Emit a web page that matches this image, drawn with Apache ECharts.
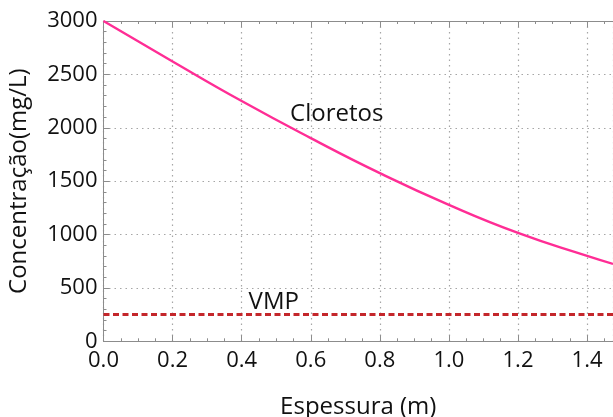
<!DOCTYPE html>
<html>
<head>
<meta charset="utf-8">
<script src="https://cdn.jsdelivr.net/npm/echarts@6/dist/echarts.min.js"></script>
<style>
  html, body { margin: 0; padding: 0; background: #fff; }
  #chart { width: 613px; height: 417px; }
</style>
</head>
<body>
<div id="chart"></div>
<script>
// Chloride concentration versus layer thickness
const thickness = [0, 0.2, 0.4, 0.6, 0.8, 1.0, 1.2, 1.4, 1.475];
const chloride = [3000, 2621, 2250, 1903, 1575, 1278, 1015, 800, 725];
// Maximum permitted value (VMP)
const vmpRange = [0, 1.475];
const vmpValue = 250;
const xMax = 1.475;

const FONT = '"Open Sans", "Noto Sans", sans-serif';
const AXIS_GREY = '#8c8c8c';
const TEXT = '#111111';

const chart = echarts.init(document.getElementById('chart'), null, { renderer: 'canvas' });

const baseX = {
  type: 'value', min: 0, max: xMax, interval: 0.2,
  axisLine: { show: true, lineStyle: { color: AXIS_GREY, width: 1 } },
  axisTick: { show: true, inside: true, length: 6, lineStyle: { color: AXIS_GREY } },
  minorTick: { show: true, splitNumber: 4, length: 3, lineStyle: { color: AXIS_GREY } }
};

chart.setOption({
  animation: false,
  backgroundColor: '#fff',
  grid: {
    left: 103.5, right: 0, top: 21, bottom: 75.7,
    containLabel: false, outerBoundsMode: 'none'
  },
  xAxis: [
    Object.assign({}, baseX, {
      position: 'bottom',
      name: 'Espessura (m)', nameLocation: 'middle', nameGap: 54,
      nameTextStyle: { fontFamily: FONT, fontSize: 24, color: TEXT },
      axisLabel: {
        fontFamily: FONT, fontSize: 22, color: TEXT, margin: 8,
        showMaxLabel: false,
        formatter: v => v.toFixed(1)
      },
      splitLine: { show: true, lineStyle: { color: '#a6a6a6', type: [1.5, 4], width: 1.2 } }
    }),
    Object.assign({}, baseX, {
      position: 'top',
      axisLabel: { show: false },
      splitLine: { show: false }
    })
  ],
  yAxis: {
    type: 'value', min: 0, max: 3000, interval: 500,
    name: 'Concentração(mg/L)', nameLocation: 'middle', nameGap: 72,
    nameTextStyle: { fontFamily: FONT, fontSize: 24, color: TEXT },
    axisLine: { show: true, lineStyle: { color: AXIS_GREY, width: 1 } },
    axisTick: { show: true, inside: true, length: 6, lineStyle: { color: AXIS_GREY } },
    minorTick: { show: true, splitNumber: 5, length: 3, lineStyle: { color: AXIS_GREY } },
    axisLabel: { fontFamily: FONT, fontSize: 22, color: TEXT, margin: 6, formatter: v => String(v) },
    splitLine: { show: true, lineStyle: { color: '#a6a6a6', type: [1.5, 4], width: 1.2 } }
  },
  series: [
    {
      name: 'Cloretos',
      type: 'line',
      xAxisIndex: 0,
      data: thickness.map((x, i) => [x, chloride[i]]),
      smooth: 0.5,
      symbol: 'none',
      lineStyle: { color: '#ff2d95', width: 2.4 },
      markPoint: {
        symbol: 'circle', symbolSize: 0,
        label: {
          show: true, position: 'right', distance: 0,
          fontFamily: FONT, fontSize: 24, color: TEXT,
          formatter: 'Cloretos'
        },
        data: [{ coord: [0.54, 2125] }]
      },
      z: 3
    },
    {
      name: 'VMP',
      type: 'line',
      xAxisIndex: 0,
      data: vmpRange.map(x => [x, vmpValue]),
      symbol: 'none',
      lineStyle: { color: '#c4262b', width: 3, type: [6, 3.5] },
      markPoint: {
        symbol: 'circle', symbolSize: 0,
        label: {
          show: true, position: 'right', distance: 0,
          fontFamily: FONT, fontSize: 24, color: TEXT,
          formatter: 'VMP'
        },
        data: [{ coord: [0.42, 362] }]
      },
      z: 2
    }
  ]
});
</script>
</body>
</html>
